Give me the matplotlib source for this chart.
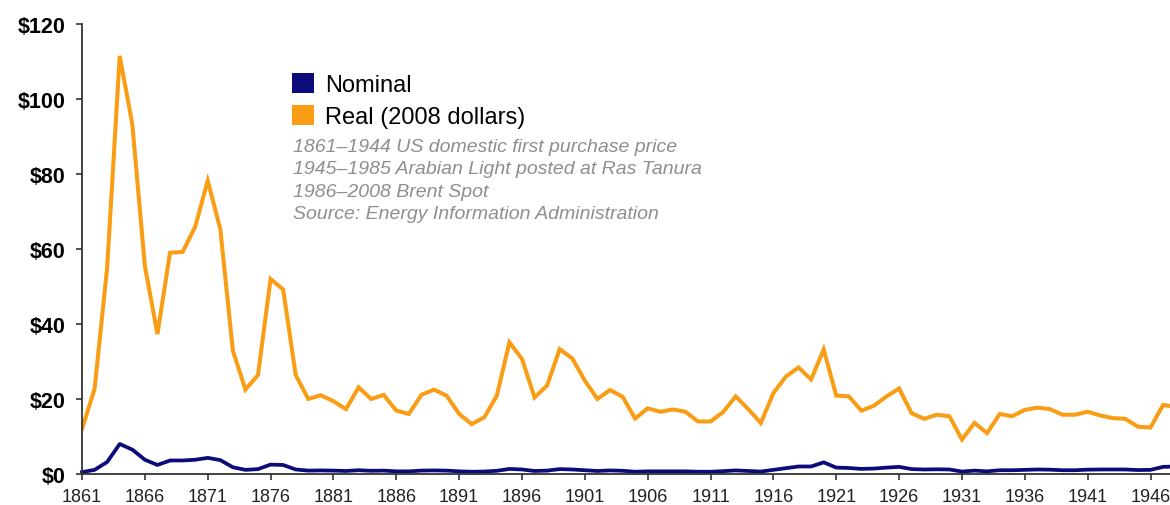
''' Crude oil prices 1861-1947, nominal vs real '''

import matplotlib
matplotlib.use("Agg")
import matplotlib.pyplot as plt
from matplotlib.patches import Patch
from matplotlib.ticker import FuncFormatter

plt.rcParams['font.family'] = ['Liberation Sans', 'DejaVu Sans']

years = list(range(1861, 1949))

# real price, 2008 dollars
real = [12.0, 22.7, 55.0, 111.5, 93.3, 55.5, 37.3, 59.0, 59.2, 65.9,
        78.2, 65.3, 32.9, 22.5, 26.4, 52.0, 49.2, 26.4, 20.0, 21.0,
        19.4, 17.3, 23.1, 20.0, 21.1, 16.9, 16.0, 21.1, 22.5, 20.9,
        16.0, 13.3, 15.1, 20.9, 35.1, 30.7, 20.4, 23.6, 33.3, 30.8,
        24.9, 20.0, 22.4, 20.6, 14.8, 17.5, 16.6, 17.2, 16.6, 14.0,
        14.0, 16.5, 20.7, 17.3, 13.6, 21.6, 26.0, 28.4, 25.2, 33.2,
        20.9, 20.7, 16.9, 18.2, 20.7, 22.8, 16.2, 14.7, 15.8, 15.4,
        9.2, 13.6, 10.9, 16.0, 15.4, 17.1, 17.7, 17.3, 15.8, 15.8,
        16.6, 15.6, 14.9, 14.7, 12.6, 12.4, 18.4, 17.9]

# nominal price, dollars per barrel
nominal = [0.5, 1.1, 3.2, 8.0, 6.5, 3.8, 2.4, 3.6, 3.6, 3.8,
           4.3, 3.7, 1.8, 1.1, 1.3, 2.5, 2.4, 1.2, 0.9, 0.95,
           0.9, 0.8, 1.0, 0.85, 0.9, 0.7, 0.7, 0.9, 0.95, 0.9,
           0.7, 0.6, 0.65, 0.85, 1.35, 1.2, 0.8, 0.9, 1.3, 1.2,
           1.0, 0.8, 0.95, 0.85, 0.6, 0.7, 0.7, 0.7, 0.7, 0.6,
           0.6, 0.75, 0.95, 0.8, 0.65, 1.1, 1.55, 2.0, 2.0, 3.1,
           1.7, 1.6, 1.35, 1.45, 1.7, 1.9, 1.3, 1.2, 1.25, 1.2,
           0.65, 0.9, 0.7, 1.0, 1.0, 1.1, 1.2, 1.15, 1.0, 1.0,
           1.15, 1.2, 1.2, 1.2, 1.05, 1.1, 1.9, 2.0]

xticks = list(range(1861, 1947, 5))
notes = ["1861\u20131944 US domestic first purchase price",
         "1945\u20131985 Arabian Light posted at Ras Tanura",
         "1986\u20132008 Brent Spot",
         "Source: Energy Information Administration"]

navy = '#0b0b7a'
orange = '#f99d15'

fig = plt.figure(figsize=(11.7, 5.06), dpi=100)
ax = fig.add_axes([0.0701, 0.0613, 0.9299, 0.8893])

ax.plot(years, real, color=orange, lw=2.9, solid_joinstyle='miter')
ax.plot(years, nominal, color=navy, lw=2.7, clip_on=False)

ax.set_xlim(1861, 1947.55)
ax.set_ylim(0, 120)
ax.set_xticks(xticks)
ax.set_yticks(range(0, 121, 20))
ax.yaxis.set_major_formatter(FuncFormatter(lambda v, p: "$%d" % v))

for s in ['top', 'right']:
    ax.spines[s].set_visible(False)
for s in ['left', 'bottom']:
    ax.spines[s].set_color('#333333')
    ax.spines[s].set_linewidth(1.3)

ax.tick_params(axis='y', length=4, width=1.2, color='#333333', pad=8,
               labelsize=15.5)
ax.tick_params(axis='x', length=4, width=1.2, color='#333333', pad=6,
               labelsize=13, labelcolor='#222222')
for lab in ax.get_yticklabels():
    lab.set_fontweight('bold')

handles = [Patch(facecolor=navy, edgecolor='none', label='Nominal'),
           Patch(facecolor=orange, edgecolor='none', label='Real (2008 dollars)')]
ax.legend(handles=handles, loc='upper left', bbox_to_anchor=(0.193, 0.891),
          frameon=False, fontsize=17, handlelength=0.95, handleheight=0.95,
          handletextpad=0.45, labelspacing=0.36, borderpad=0, borderaxespad=0)

ax.text(0.194, 0.747, "\n".join(notes), transform=ax.transAxes,
        fontsize=14, style='italic', color='#8e8e8e', va='top',
        linespacing=1.42)

fig.savefig("out.png", dpi=100)
